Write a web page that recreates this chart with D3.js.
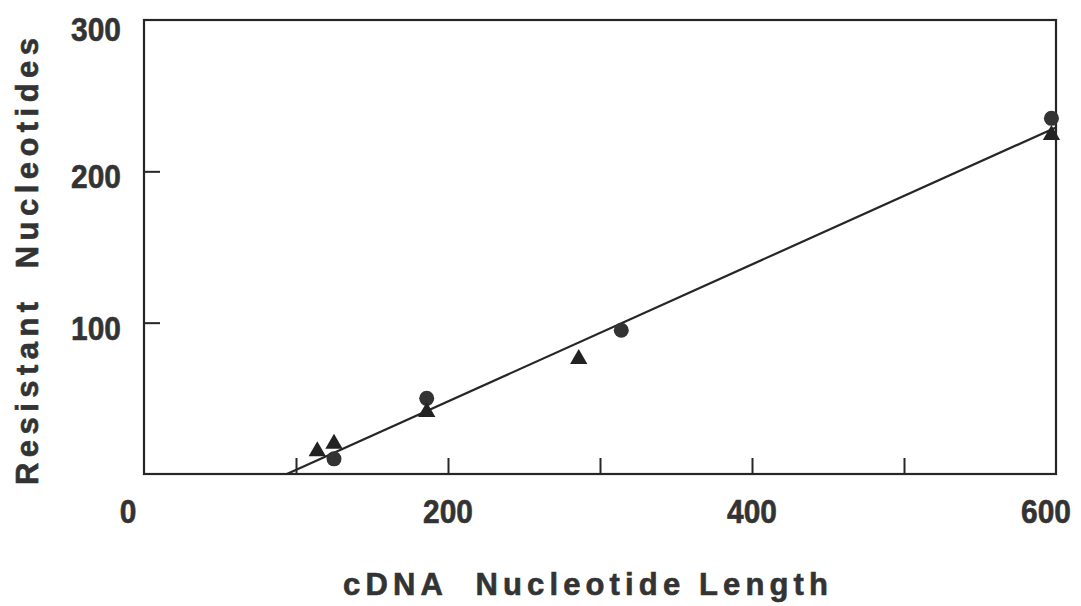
<!DOCTYPE html>
<html>
<head>
<meta charset="utf-8">
<script src="https://cdn.jsdelivr.net/npm/d3@7"></script>
<style>
  html, body { margin: 0; padding: 0; background: #fff; }
  svg { display: block; }
  .tick-label { font-family: "Liberation Sans", Arial, sans-serif; font-weight: bold; font-size: 34px; fill: #333; stroke: #333; stroke-width: 0.6px; }
  .axis-title { font-family: "Liberation Sans", Arial, sans-serif; font-weight: bold; font-size: 31px; fill: #333; stroke: #333; stroke-width: 0.6px; }
</style>
</head>
<body>
<svg id="chart" width="1081" height="606"></svg>
<script>
// Resistant nucleotides vs cDNA length
const circleX = [125, 186, 314, 597];
const circleY = [10, 50, 95, 235];
const triangleX = [114, 125, 186, 286, 597];
const triangleY = [15, 20, 41, 76, 224];
// fitted regression line endpoints
const fitX = [94, 600];
const fitY = [0, 229];
const xTicks = [100, 200, 300, 400, 500];
const xTickLabels = [0, 200, 400, 600];
const yTicks = [100, 200];
const yTickLabels = [100, 200, 300];

const svg = d3.select("#chart");
const x = d3.scaleLinear().domain([0, 600]).range([144, 1056]);
const y = d3.scaleLinear().domain([0, 300]).range([474, 20]);
const ink = "#262626";
const narrow = 0.88;

// frame
svg.append("rect")
  .attr("x", x(0)).attr("y", y(300))
  .attr("width", x(600) - x(0)).attr("height", y(0) - y(300))
  .attr("fill", "none").attr("stroke", ink).attr("stroke-width", 2.2);

// inward tick marks
const xAxis = d3.axisBottom(x).tickValues(xTicks).tickSizeInner(-16).tickSizeOuter(0).tickFormat("");
const gx = svg.append("g").attr("transform", `translate(0,${y(0)})`).call(xAxis);
gx.select(".domain").remove();
gx.selectAll("line").attr("stroke", ink).attr("stroke-width", 2);

const yAxis = d3.axisLeft(y).tickValues(yTicks).tickSizeInner(-16).tickSizeOuter(0).tickFormat("");
const gy = svg.append("g").attr("transform", `translate(${x(0)},0)`).call(yAxis);
gy.select(".domain").remove();
gy.selectAll("line").attr("stroke", ink).attr("stroke-width", 2);

// tick labels (condensed digits)
const xShift = v => (v === 0 ? -16 : v === 600 ? -10 : 0);
svg.selectAll(".xl").data(xTickLabels).enter().append("text")
  .attr("class", "tick-label")
  .attr("transform", d => `translate(${x(d) + xShift(d)},523) scale(${narrow},1)`)
  .attr("text-anchor", "middle")
  .text(d => d);

const yShift = v => (v === 300 ? 21 : 17);
svg.selectAll(".yl").data(yTickLabels).enter().append("text")
  .attr("class", "tick-label")
  .attr("transform", d => `translate(121,${y(d) + yShift(d)}) scale(${narrow},1)`)
  .attr("text-anchor", "end")
  .text(d => d);

// axis titles
svg.append("text").attr("class", "axis-title")
  .attr("x", 343).attr("y", 595)
  .attr("textLength", 485).attr("lengthAdjust", "spacing")
  .text("cDNA\u00a0\u00a0Nucleotide Length");

svg.append("text").attr("class", "axis-title")
  .attr("transform", "translate(38,485) rotate(-90)")
  .attr("textLength", 447).attr("lengthAdjust", "spacing")
  .text("Resistant\u00a0\u00a0Nucleotides");

// regression line
svg.append("line")
  .attr("x1", x(fitX[0])).attr("y1", y(fitY[0]))
  .attr("x2", x(fitX[1])).attr("y2", y(fitY[1]))
  .attr("stroke", ink).attr("stroke-width", 2.2);

// circles
svg.selectAll(".pt-c").data(circleX).enter().append("circle")
  .attr("cx", d => x(d)).attr("cy", (d, i) => y(circleY[i]))
  .attr("r", 7.5).attr("fill", "#333");

// triangles
const tri = d3.symbol().type(d3.symbolTriangle).size(130);
svg.selectAll(".pt-t").data(triangleX).enter().append("path")
  .attr("d", tri)
  .attr("transform", (d, i) => `translate(${x(d)},${y(triangleY[i])})`)
  .attr("fill", "#222");
</script>
</body>
</html>
